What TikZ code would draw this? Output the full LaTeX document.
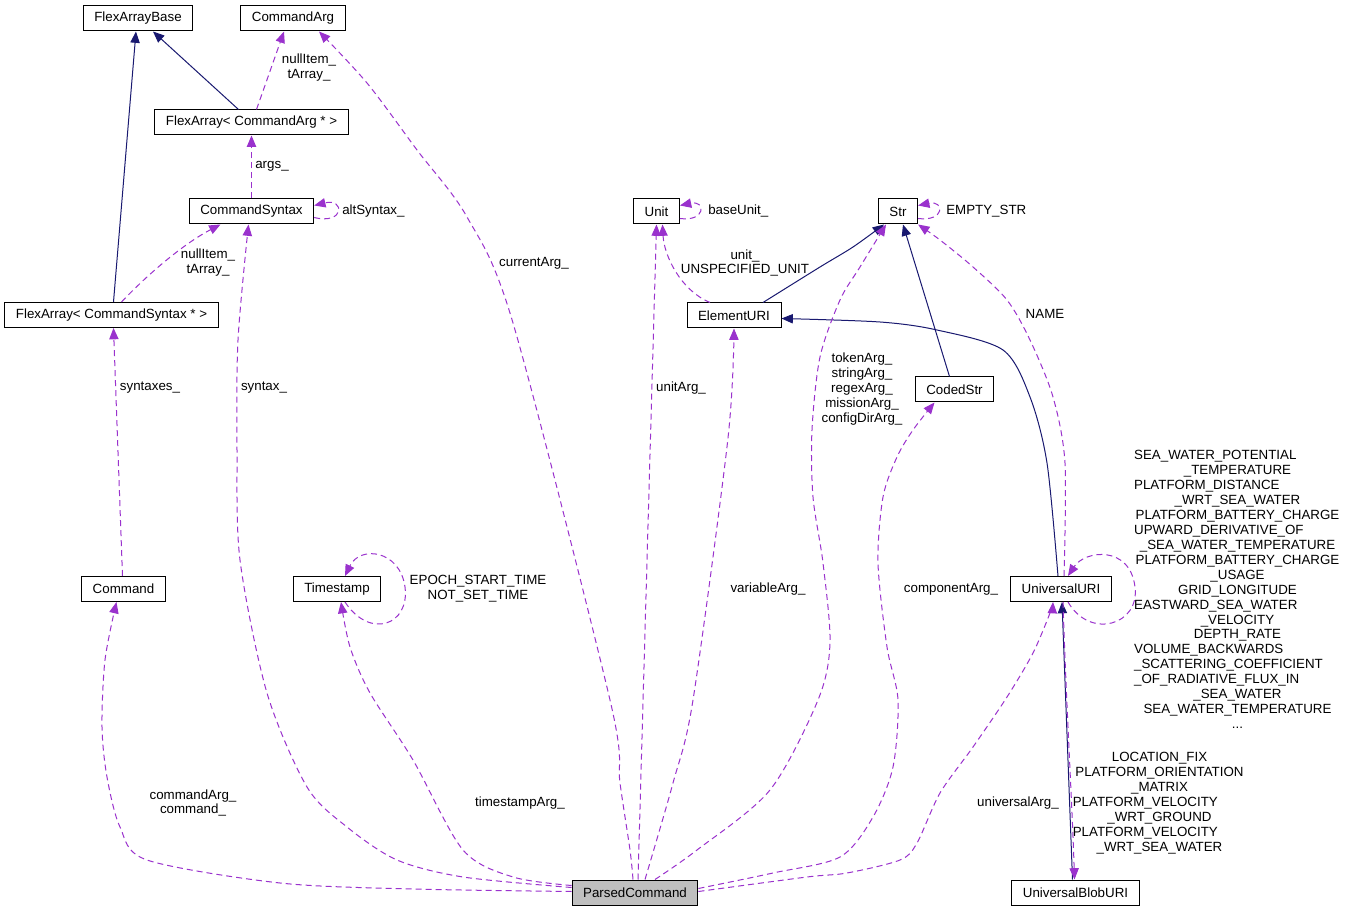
\documentclass[tikz,border=0pt]{standalone}
\usepackage{fontspec}
\setmainfont{Liberation Sans}
\usetikzlibrary{arrows.meta,calc}

\definecolor{inhblue}{RGB}{25,25,112}
\definecolor{usepurple}{RGB}{154,50,205}
\definecolor{mainfill}{RGB}{191,191,191}

\newcommand{\lline}[1]{\makebox[\linewidth][l]{#1}}

\begin{document}
\begin{tikzpicture}[
  x=0.75pt, y=-0.75pt,
  font=\fontsize{10}{11.2}\selectfont,
  cls/.style={draw=black, line width=0.75pt, fill=white, minimum height=18.75pt,
              inner xsep=8.3pt, inner ysep=0pt},
  focus/.style={cls, fill=mainfill},
  inh/.style={draw=inhblue, line width=0.75pt, -{Triangle[length=8.5pt,width=7pt]}},
  use/.style={draw=usepurple, line width=0.75pt, dash pattern=on 4.5pt off 3pt,
              -{Triangle[length=8.5pt,width=7pt]}},
  lbl/.style={align=center, inner sep=0pt}
]
\path[use as bounding box, fill=white] (0,0) rectangle (1347,912);

\node[cls] (fab) at (138,18.5) {FlexArrayBase};
\node[cls] (carg) at (293,18.5) {CommandArg};
\node[cls] (faca) at (251.5,122.5) {FlexArray< CommandArg * >};
\node[cls] (csyn) at (251.5,211.5) {CommandSyntax};
\node[cls] (fasx) at (111.5,315) {FlexArray< CommandSyntax * >};
\node[cls] (cmd) at (123.5,589) {Command};
\node[cls] (ts) at (337,589) {Timestamp};
\node[cls] (unit) at (656.5,211.5) {Unit};
\node[cls] (str) at (898,211.5) {Str};
\node[cls] (euri) at (734,315.5) {ElementURI};
\node[cls] (cstr) at (954.5,389.5) {CodedStr};
\node[cls] (uuri) at (1061,589) {UniversalURI};
\node[cls] (ublob) at (1075.5,892.5) {UniversalBlobURI};
\node[focus] (pc) at (635,892.5) {ParsedCommand};

\draw[inh] ($(fasx.north)+(2,0)$) -- ($(fab.south)+(-2,0)$);
\draw[inh] ($(faca.north)+(-13,0)$) -- ($(fab.south)+(15,0)$);
\draw[inh] plot[smooth] coordinates {($(euri.north)+(29,0)$) (820,267) (853,247) ($(str.south)+(-14,0)$)};
\draw[inh] ($(cstr.north)+(-5,0)$) -- ($(str.south)+(5,0)$);
\draw[inh] plot[smooth] coordinates {($(uuri.north)+(-3,0)$) (1047,463) (1030,397) (1003,350) (937,330) (880,322) ($(euri.east)+(0,3)$)};
\draw[inh] ($(ublob.north)+(-3,0)$) -- ($(uuri.south)+(1,0)$);

\draw[use] ($(faca.north)+(5,0)$) -- ($(carg.south)+(-9,0)$);
\node[lbl] (lNullA) at (309,68) {nullItem\_\\tArray\_};
\draw[use] (csyn.north) -- (faca.south);
\node[lbl] (lArgs) at (272,166) {args\_};
\draw[use] ($(csyn.east)+(0,6)$) .. controls (345,225) and (345,198) .. ($(csyn.east)+(0,-6)$);
\node[lbl, anchor=west] (lAlt) at (342,211) {altSyntax\_};
\draw[use] ($(fasx.north)+(10,0)$) .. controls (150,272) and (185,243) .. ($(csyn.south)+(-31,0)$);
\node[lbl] (lNullB) at (208,263) {nullItem\_\\tArray\_};
\draw[use] ($(cmd.north)+(-1,0)$) -- ($(fasx.south)+(2,0)$);
\node[lbl] (lSyntaxes) at (150,388) {syntaxes\_};

\draw[use] plot[smooth] coordinates {($(pc.west)+(0,-1)$) (413,889) (280,883) (147,860) (120,827) (107,777) (102,727) (105,660) ($(cmd.south)+(-7,0)$)};
\node[lbl] (lCmd) at (193,803) {commandArg\_\\command\_};
\draw[use] plot[smooth] coordinates {($(pc.west)+(0,-5)$) (463,877) (397,860) (347,827) (307,787) (267,693) (240,560) (237,450) (238,340) ($(csyn.south)+(-3,0)$)};
\node[lbl] (lSyntax) at (264,388) {syntax\_};
\draw[use] plot[smooth] coordinates {($(pc.west)+(0,-7)$) (513,877) (463,850) (413,760) (370,693) (350,647) ($(ts.south)+(4,0)$)};
\node[lbl] (lTs) at (520,803) {timestampArg\_};
\draw[use] ($(ts.south)+(8,0)$) .. controls (370,640) and (410,625) .. (405,587) .. controls (400,550) and (360,545) .. ($(ts.north)+(8,0)$);
\node[lbl] (lEpoch) at (478,589) {EPOCH\_START\_TIME\\NOT\_SET\_TIME};
\draw[use] plot[smooth] coordinates {($(pc.north)+(-2,0)$) (630,850) (620,783) (610,700) (513,323) (467,217) (417,150) (367,83) ($(carg.south)+(26,0)$)};
\node[lbl] (lCurrent) at (534,263) {currentArg\_};

\draw[use] ($(pc.north)+(3,0)$) -- (unit.south);
\node[lbl] (lUnitArg) at (681,388) {unitArg\_};
\draw[use] ($(unit.east)+(0,7)$) .. controls (706,222) and (706,200) .. ($(unit.east)+(0,-6)$);
\node[lbl, anchor=west] (lBase) at (708,211) {baseUnit\_};
\draw[use] ($(euri.north)+(-24,0)$) .. controls (680,290) and (664,255) .. ($(unit.south)+(6,0)$);
\node[lbl] (lUnit) at (745,263) {unit\_\\UNSPECIFIED\_UNIT};
\draw[use] plot[smooth] coordinates {($(pc.north)+(10,0)$) (673,783) (693,700) (728,438) (euri.south)};
\node[lbl] (lVar) at (768,589) {variableArg\_};

\draw[use] plot[smooth] coordinates {($(pc.north)+(20,0)$) (697,850) (770,790) (818,700) (830,643) (823,563) (813,497) (812,430) (820,357) (840,300) (860,267) ($(str.south)+(-12,0)$)};
\node[lbl] (lTok) at (862,389) {tokenArg\_\\stringArg\_\\regexArg\_\\missionArg\_\\configDirArg\_};
\draw[use] ($(str.east)+(0,7)$) .. controls (945,222) and (945,200) .. ($(str.east)+(0,-6)$);
\node[lbl, anchor=west] (lEmpty) at (946,211) {EMPTY\_STR};
\draw[use] plot[smooth] coordinates {($(pc.east)+(0,-4)$) (773,873) (840,857) (873,817) (893,767) (898,700) (887,647) (878,563) (883,497) (897,457) (913,430) ($(cstr.south)+(-20,0)$)};
\node[lbl] (lComp) at (951,589) {componentArg\_};
\draw[use] plot[smooth] coordinates {($(pc.east)+(0,-1)$) (807,877) (847,873) (900,860) (917,843) (940,793) (973,747) (1007,697) (1033,653) (1050,613) ($(uuri.south)+(-8,0)$)};
\node[lbl] (lUniv) at (1018,803) {universalArg\_};

\draw[use] plot[smooth] coordinates {($(uuri.north)+(3,0)$) (1065,463) (1053,397) (1030,340) (1007,300) (973,267) (940,240) (str.south east)};
\node[lbl] (lName) at (1045,314) {NAME};
\draw[use] ($(uuri.south)+(7,0)$) .. controls (1090,640) and (1140,625) .. (1135,587) .. controls (1130,545) and (1085,550) .. ($(uuri.north)+(7,0)$);
\node[lbl, text width=155pt] (lSelf) at (1237.5,589.5) {\lline{SEA\_WATER\_POTENTIAL}\\\_TEMPERATURE\\\lline{PLATFORM\_DISTANCE}\\\_WRT\_SEA\_WATER\\PLATFORM\_BATTERY\_CHARGE\\\lline{UPWARD\_DERIVATIVE\_OF}\\\_SEA\_WATER\_TEMPERATURE\\PLATFORM\_BATTERY\_CHARGE\\\_USAGE\\GRID\_LONGITUDE\\\lline{EASTWARD\_SEA\_WATER}\\\_VELOCITY\\DEPTH\_RATE\\\lline{VOLUME\_BACKWARDS}\\\lline{\_SCATTERING\_COEFFICIENT}\\\lline{\_OF\_RADIATIVE\_FLUX\_IN}\\\_SEA\_WATER\\SEA\_WATER\_TEMPERATURE\\...};
\draw[use] ($(uuri.south)+(2,0)$) .. controls (1066,700) and (1072,800) .. ($(ublob.north)+(-1,0)$);
\node[lbl, text width=130pt] (lBlob) at (1159.5,803) {LOCATION\_FIX\\PLATFORM\_ORIENTATION\\\_MATRIX\\\lline{PLATFORM\_VELOCITY}\\\_WRT\_GROUND\\\lline{PLATFORM\_VELOCITY}\\\_WRT\_SEA\_WATER};
\end{tikzpicture}
\end{document}
